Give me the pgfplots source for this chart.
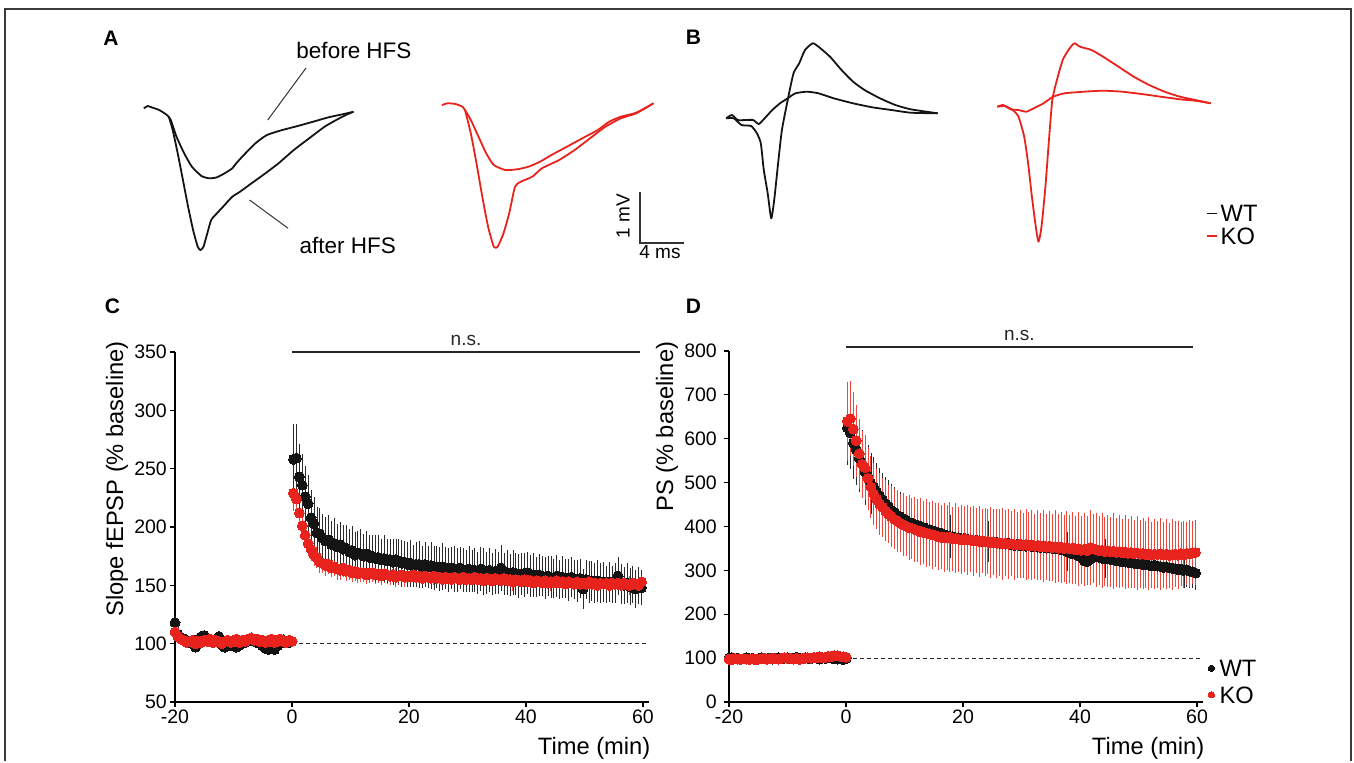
\documentclass[border=0pt]{standalone}
\usepackage{fontspec}
\setmainfont{Liberation Sans}
\usepackage{pgfplots}
\usepackage{pgfplotstable}
\pgfplotsset{compat=1.18}

\definecolor{wt}{HTML}{141414}
\definecolor{ko}{HTML}{E8221D}
\definecolor{wtbar}{HTML}{2B2B2B}
\definecolor{kobar}{HTML}{F0463C}
\definecolor{frame}{HTML}{3A3A3A}

\newcommand\tfont{\fontsize{19.5}{22}\selectfont}
\newcommand\lfont{\fontsize{23.7}{28}\selectfont}
\newcommand\pfont{\bfseries\fontsize{21}{24}\selectfont}

% panel C: t, WT mean, WT sem, KO mean, KO sem (% baseline)
\pgfplotstableread{
t wt wte ko koe
-20 118 6 110 5
-19.5 108 6 106 5
-19 105 5 104 4
-18.5 104 5 103 4
-18 103 5 101 4
-17.5 101 5 102 4
-17 102 5 103 4
-16.5 97 5 100 4
-16 104 5 102 4
-15.5 106 5 101 4
-15 107 5 103 4
-14.5 105 5 102 4
-14 103 5 104 4
-13.5 101 5 101 4
-13 104 5 103 4
-12.5 106 5 102 4
-12 99 5 100 4
-11.5 97 5 102 4
-11 98 5 103 4
-10.5 99 5 101 4
-10 98 5 102 4
-9.5 97 5 104 4
-9 99 5 101 4
-8.5 100 5 103 4
-8 101 5 102 4
-7.5 102 5 104 4
-7 104 5 105 4
-6.5 103 5 103 4
-6 101 5 104 4
-5.5 100 5 102 4
-5 98 5 103 4
-4.5 96 5 101 4
-4 95 5 102 4
-3.5 97 5 104 4
-3 95 5 101 4
-2.5 98 5 103 4
-2 100 5 104 4
-1.5 103 5 102 4
-1 102 5 101 4
-0.5 101 5 103 4
0 102 5 102 4
0.25 258 30 229 15
0.75 259 29 224 14
1.25 243 28 212 13
1.75 236 27 201 12
2.25 226 26 193 11
2.75 220 25 186 10
3.25 208 24 181 10
3.75 203 23 176 9
4.25 195 22 174 9
4.75 194 22 170 9
5.25 190 21 169 8
5.75 188 21 167 9
6.25 189 21 168 8
6.75 185 20 165 8
7.25 186 22 166 8
7.75 183 20 164 9
8.25 185 19 163 8
8.75 181 21 165 8
9.25 182 20 162 8
9.75 179 19 163 8
10.25 180 21 161 8
10.75 176 20 162 8
11.25 178 19 160 8
11.75 177 21 161 8
12.25 175 19 161 8
12.75 177 20 159 8
13.25 174 19 160 8
13.75 175 18 161 8
14.25 173 20 159 8
14.75 174 19 160 8
15.25 172 18 158 8
15.75 173 20 160 8
16.25 171 19 159 8
16.75 172 18 158 8
17.25 170 20 159 8
17.75 172 18 157 8
18.25 171 19 158 8
18.75 169 20 159 8
19.25 170 18 157 8
19.75 168 19 158 8
20.25 169 20 157 8
20.75 167 18 159 8
21.25 168 19 157 8
21.75 168 20 158 8
22.25 166 18 156 8
22.75 168 19 158 8
23.25 166 18 157 8
23.75 167 20 156 8
24.25 165 19 158 8
24.75 166 18 156 8
25.25 164 19 157 8
25.75 166 20 155 8
26.25 165 18 157 8
26.75 163 19 156 8
27.25 165 18 155 8
27.75 164 20 157 8
28.25 163 19 156 8
28.75 165 18 155 8
29.25 163 19 157 8
29.75 162 18 155 8
30.25 164 20 156 8
30.75 162 18 155 8
31.25 163 19 157 8
31.75 161 18 155 8
32.25 164 19 156 8
32.75 162 20 154 8
33.25 161 18 156 8
33.75 163 19 155 8
34.25 160 18 154 8
34.75 162 19 156 8
35.25 161 18 155 8
35.75 165 20 154 8
36.25 160 18 156 8
36.75 161 19 154 8
37.25 159 18 155 8
37.75 161 19 153 8
38.25 160 18 155 8
38.75 158 19 154 8
39.25 160 18 153 8
39.75 159 19 155 8
40.25 161 18 153 8
40.75 158 18 154 8
41.25 159 19 152 8
41.75 157 17 154 8
42.25 159 18 153 8
42.75 158 17 152 8
43.25 156 18 154 8
43.75 158 17 152 8
44.25 157 18 153 8
44.75 156 17 152 8
45.25 158 18 154 8
45.75 155 17 152 8
46.25 157 18 153 8
46.75 156 17 151 8
47.25 155 18 153 8
47.75 157 17 152 8
48.25 155 17 151 8
48.75 154 18 153 8
49.25 156 17 151 8
49.75 147 17 152 8
50.25 155 17 151 8
50.75 153 18 153 8
51.25 154 17 151 8
51.75 152 17 152 8
52.25 154 18 150 8
52.75 152 17 152 8
53.25 153 17 151 8
53.75 151 16 152 8
54.25 153 17 150 8
54.75 151 16 152 8
55.25 152 17 151 8
55.75 158 16 152 8
56.25 151 17 150 8
56.75 150 16 152 8
57.25 152 17 151 8
57.75 149 16 150 8
58.25 151 16 152 8
58.75 147 16 151 8
59.25 150 16 150 8
59.75 148 15 153 8
}\slope

% panel D: population spike, same columns
\pgfplotstableread{
t wt wte ko koe
-20 100 8 98 7
-19.5 101 7 97 7
-19 99 7 99 7
-18.5 100 7 98 7
-18 98 7 97 7
-17.5 99 7 99 7
-17 101 7 98 7
-16.5 99 7 97 7
-16 100 7 99 7
-15.5 98 7 96 7
-15 99 7 98 7
-14.5 101 7 99 7
-14 100 7 100 7
-13.5 99 7 98 7
-13 100 7 99 7
-12.5 98 7 100 7
-12 100 7 99 7
-11.5 101 7 98 7
-11 99 7 100 7
-10.5 100 7 101 7
-10 101 7 99 7
-9.5 99 7 100 7
-9 100 7 98 7
-8.5 102 7 100 7
-8 100 7 97 7
-7.5 99 7 99 7
-7 101 7 100 7
-6.5 100 7 101 7
-6 99 7 100 7
-5.5 101 7 102 7
-5 100 7 101 7
-4.5 98 7 103 7
-4 100 7 101 7
-3.5 99 7 102 7
-3 101 7 104 7
-2.5 100 7 103 7
-2 99 7 106 7
-1.5 98 7 105 7
-1 100 7 104 7
-0.5 97 7 103 7
0 99 7 102 7
0.25 625 85 640 90
0.75 614 84 646 86
1.25 590 82 622 84
1.75 575 80 596 82
2.25 556 78 566 80
2.75 543 76 542 76
3.25 524 74 534 74
3.75 514 72 510 72
4.25 498 70 490 70
4.75 490 68 474 71
5.25 478 66 462 68
5.75 470 64 451 70
6.25 460 62 444 67
6.75 452 61 436 69
7.25 446 60 429 66
7.75 437 59 423 70
8.25 433 58 417 68
8.75 426 57 413 71
9.25 423 56 408 67
9.75 417 56 404 72
10.25 415 55 401 69
10.75 410 55 398 74
11.25 408 54 396 70
11.75 404 54 393 75
12.25 403 53 391 71
12.75 399 53 388 76
13.25 398 52 387 72
13.75 394 52 385 77
14.25 393 51 383 73
14.75 390 51 381 78
15.25 389 50 380 73
15.75 386 50 377 77
16.25 385 50 376 72
16.75 381 49 375 78
17.25 380 49 374 74
17.75 378 49 376 79
18.25 377 48 372 73
18.75 375 48 373 80
19.25 374 48 371 74
19.75 372 48 370 78
20.25 373 48 372 75
20.75 371 47 369 80
21.25 370 47 370 74
21.75 368 47 367 79
22.25 369 47 368 75
22.75 367 47 366 80
23.25 366 46 367 74
23.75 365 46 365 78
24.25 366 46 366 75
24.75 364 46 363 81
25.25 363 46 365 75
25.75 364 46 362 79
26.25 362 46 363 76
26.75 361 45 361 82
27.25 360 45 362 75
27.75 362 45 360 79
28.25 358 45 361 74
28.75 357 45 359 80
29.25 359 45 358 75
29.75 356 45 360 78
30.25 357 45 357 74
30.75 355 45 359 81
31.25 356 45 356 76
31.75 354 45 358 79
32.25 355 45 355 74
32.75 353 45 357 80
33.25 352 45 354 76
33.75 354 45 356 82
34.25 351 45 353 75
34.75 352 45 355 80
35.25 350 45 352 76
35.75 349 45 354 83
36.25 350 45 351 77
36.75 347 45 353 81
37.25 346 45 350 76
37.75 343 45 352 84
38.25 341 45 349 77
38.75 338 45 351 82
39.25 336 45 347 78
39.75 333 45 349 85
40.25 330 45 346 77
40.75 322 45 348 83
41.25 320 45 345 79
41.75 326 45 352 86
42.25 329 45 350 78
42.75 331 44 347 84
43.25 330 44 345 79
43.75 328 44 346 85
44.25 327 44 343 78
44.75 326 44 345 82
45.25 325 44 342 80
45.75 324 44 344 86
46.25 322 43 341 79
46.75 321 43 343 83
47.25 320 43 340 78
47.75 319 43 342 85
48.25 318 43 339 79
48.75 317 43 341 82
49.25 316 42 338 77
49.75 315 42 340 84
50.25 316 42 337 78
50.75 313 42 339 81
51.25 314 42 336 77
51.75 312 42 338 83
52.25 311 41 335 76
52.75 312 41 337 80
53.25 310 41 336 76
53.75 309 41 338 82
54.25 307 41 335 75
54.75 308 40 337 79
55.25 306 40 334 74
55.75 305 40 336 80
56.25 304 40 337 75
56.75 302 40 335 78
57.25 303 39 338 73
57.75 300 39 336 77
58.25 301 39 339 72
58.75 298 39 338 76
59.25 297 38 340 72
59.75 294 38 341 74
}\spike

\pgfplotsset{
  ltp/.style={
    scale only axis, clip=false,
    axis lines*=left,
    axis line style={line width=1.2pt, black},
    tick align=outside, major tick length=5pt,
    every tick/.style={line width=1.2pt, black},
    xmin=-20, xmax=61, width=473.85pt,
    xtick={-20,0,20,40,60}, xticklabels={-20,0,20,40,60},
    /pgf/number format/assume math mode=true,
    tick label style={font=\tfont},
    yticklabel style={inner sep=3pt},
    xticklabel style={inner sep=3pt},
    label style={font=\lfont},
    xlabel={Time (min)},
    xlabel style={at={(axis description cs:1,0)}, anchor=north east, xshift=5pt, yshift=-32pt},
  },
  wterr/.style={only marks, mark=none, forget plot,
    error bars/.cd, y dir=both, y explicit, error mark=none,
    error bar style={draw=wtbar, line width=0.65pt}},
  koerr/.style={only marks, mark=none, forget plot,
    error bars/.cd, y dir=both, y explicit, error mark=none,
    error bar style={draw=kobar, line width=0.75pt}},
  wtdot/.style={only marks, mark=*, mark size=5pt, mark options={fill=wt, draw=wt, line width=0pt}},
  kodot/.style={only marks, mark=*, mark size=5pt, mark options={fill=ko, draw=ko, line width=0pt}},
  trace/.style={no marks, line width=1.8pt, line join=round, smooth, tension=0.35},
}

\begin{document}
\begin{tikzpicture}

% canvas in pixel units: traces, labels, frame
\begin{axis}[at={(0pt,0pt)}, anchor=north west, scale only axis,
  width=1354pt, height=761pt, xmin=0, xmax=1354, ymin=0, ymax=761,
  y dir=reverse, hide axis, clip=false,
  legend style={draw=none, fill=none, at={(axis cs:1206,202)}, anchor=north west,
    font=\lfont, inner sep=0pt, nodes={inner sep=3pt, text depth=0pt}},
  legend cell align=left,
  legend image code/.code={\draw[#1, line width=1.5pt] (0pt,0pt) -- (10pt,0pt);}]
\path (0,0) rectangle (1354,761);
\draw[frame, line width=1.5pt] (5,761) -- (5,9) -- (1351,9) -- (1351,761);

% A: WT before / after HFS
\addplot[trace, wt, forget plot] coordinates {
(143.8,108.3) (147.7,106) (151.5,107.3) (159.2,110) (166.9,115) (170.8,120)
(176.5,136.7) (184.2,153.3) (191.9,166.7) (201.5,176) (209.2,178.3) (216.9,177.3)
(224.6,173.3) (232.3,168.3) (236.2,163.3) (243.8,155) (255.4,143.3) (266.9,135)
(282.3,130) (297.7,126) (313.1,121.7) (328.5,117.3) (343.8,114) (353.5,111.7)};
\addplot[trace, wt, forget plot] coordinates {
(168.8,116.7) (172.7,130) (177.7,153.3) (182.3,176.7) (188.1,206.7) (193.1,230)
(197.7,246.7) (200.4,250) (203.5,246.7) (207.3,233.3) (211.2,220) (216.9,213.3)
(224.6,205) (232.3,196.7) (240,191.7) (251.5,183.3) (263.1,175) (278.5,163.3)
(293.8,150) (309.2,138.3) (324.6,126.7) (336.2,120) (345.8,115) (353.5,111.7)};
% A: KO before / after HFS
\addplot[trace, ko, forget plot] coordinates {
(441.9,105) (447.7,103.3) (455.4,104) (463.1,107.3) (470.8,120) (478.5,136.7)
(486.2,153.3) (493.8,165) (505.4,170) (516.9,169.3) (528.5,166.7) (540,161.7)
(551.5,155) (566.9,146.7) (582.3,138.3) (597.7,130) (609.2,121.7) (620.8,116.7)
(636.2,112.7) (653.5,103.3)};
\addplot[trace, ko, forget plot] coordinates {
(465,110) (470.8,133.3) (476.5,163.3) (482.3,196.7) (488.1,226.7) (493.8,246.7)
(497.7,246.7) (503.5,233.3) (509.2,213.3) (515,186.7) (520.8,181.7) (532.3,176.7)
(541.9,168.3) (559.2,160) (574.6,150) (590,138.3) (605.4,126.7) (620.8,118.3)
(636.2,113.3) (653.5,103.3)};

% B: WT
\addplot[trace, wt] coordinates {
(726.2,118.3) (731.9,115) (737.7,120) (745.4,120) (753.1,120) (758.8,124)
(764.6,118.3) (772.3,110) (780,103.3) (787.7,98.3) (795.4,93.3) (806.9,91.7)
(818.5,93.3) (833.8,98.3) (853.1,103.3) (872.3,107.3) (891.5,110) (910.8,112.7)
(937.7,113.3)};
\addlegendentry{WT}
\addplot[trace, wt, forget plot] coordinates {
(726.2,118.3) (733.8,118.3) (741.5,125) (751.2,126) (756.9,133.3) (760.8,143.3)
(763.8,170) (767.7,193.3) (771.2,218.3) (774.2,200) (778.1,163.3) (781.9,130)
(787.7,100) (793.5,73.3) (799.2,63.3) (805,50) (812.7,43.3) (818.5,46.7)
(830,56.7) (841.5,70) (853.1,81.7) (864.6,90) (880,98.3) (895.4,105)
(910.8,109.3) (937.7,113.3)};
% B: KO
\addplot[trace, ko] coordinates {
(997.3,106.7) (1003.1,105) (1010.8,109.3) (1018.5,110) (1026.2,111.7) (1033.8,108.3)
(1043.5,103.3) (1053.1,96.7) (1064.6,93.3) (1083.8,91.7) (1103.1,90.7) (1122.3,91.7)
(1141.5,94) (1160.8,96.7) (1180,99.3) (1195.4,100.7) (1210.8,103.3)};
\addlegendentry{KO}
\addplot[trace, ko, forget plot] coordinates {
(997.3,106.7) (1005,106) (1012.7,110) (1018.5,116.7) (1024.2,136.7) (1028.1,163.3)
(1031.9,196.7) (1035.8,226.7) (1038.5,241.7) (1041.5,226.7) (1045.4,186.7) (1049.2,136.7)
(1052.3,100) (1056.9,80) (1062.7,60) (1068.5,50) (1074.2,43.3) (1080,46.7)
(1091.5,50) (1103.1,56.7) (1118.5,66.7) (1133.8,76.7) (1149.2,85) (1164.6,91.7)
(1180,96.7) (1195.4,100) (1210.8,103.3)};

% annotations
\draw[line width=1pt, black!80] (306,68) -- (267.7,120);
\draw[line width=1pt, black!80] (249.6,200) -- (288.1,228.3);
\node[font=\fontsize{22.5}{26}\selectfont] at (354,50) {before HFS};
\node[font=\fontsize{22.5}{26}\selectfont] at (347.7,245) {after HFS};
\draw[line width=1.1pt, black!80] (640,192) -- (640,243) -- (684,243);
\node[rotate=90, font=\fontsize{19}{22}\selectfont] at (623,216) {1 mV};
\node[font=\fontsize{19}{22}\selectfont] at (660,252) {4 ms};
\node[font=\pfont] at (111,38) {A};
\node[font=\pfont] at (693.5,37.5) {B};
\node[font=\pfont] at (112.5,306.7) {C};
\node[font=\pfont] at (693.4,306.7) {D};
\end{axis}

% C: fEPSP slope
\begin{axis}[ltp, at={(175pt,-702pt)}, anchor=south west, height=350pt,
  ymin=50, ymax=350, ytick={50,100,...,350},
  ylabel={Slope fEPSP (\% baseline)},
  ylabel style={at={(axis description cs:-0.1224,0.6375)}, anchor=center}]
\draw[dash pattern=on 4pt off 3pt, line width=0.8pt, black!85] (axis cs:0,100) -- (axis cs:61,100);
\draw[line width=1.2pt, black!85] (axis cs:0,350) -- (axis cs:59.5,350)
  node[midway, above, inner sep=6pt, font=\fontsize{19}{22}\selectfont] {n.s.};
\addplot[koerr] table[x=t, y=ko, y error=koe] {\slope};
\addplot[wterr] table[x=t, y=wt, y error=wte] {\slope};
\addplot[wtdot] table[x=t, y=wt] {\slope};
\addplot[kodot] table[x=t, y=ko] {\slope};
\end{axis}

% D: population spike
\begin{axis}[ltp, at={(729pt,-702pt)}, anchor=south west, height=351pt,
  ymin=0, ymax=800, ytick={0,100,...,800},
  yticklabel style={xshift=-4pt},
  ylabel={PS (\% baseline)},
  ylabel style={at={(axis description cs:-0.131,0.784)}, anchor=center},
  legend style={draw=none, fill=none, at={(1.0108,0.134)}, anchor=north west,
    font=\lfont, inner sep=0pt, nodes={inner sep=5pt, text depth=0pt}},
  legend cell align=left,
  legend image code/.code={\draw[#1, mark size=3.2pt] plot coordinates {(3.5pt,0pt)};}]
\draw[dash pattern=on 4pt off 3pt, line width=0.8pt, black!85] (axis cs:0,100) -- (axis cs:61,100);
\draw[line width=1.2pt, black!85] (axis cs:0,809) -- (axis cs:59.3,809)
  node[midway, above, inner sep=6pt, font=\fontsize{19}{22}\selectfont] {n.s.};
\addplot[wterr] table[x=t, y=wt, y error=wte] {\spike};
\addplot[koerr] table[x=t, y=ko, y error=koe] {\spike};
\addplot[wtdot] table[x=t, y=wt] {\spike};
\addlegendentry{WT}
\addplot[kodot] table[x=t, y=ko] {\spike};
\addlegendentry{KO}
\end{axis}

\end{tikzpicture}
\end{document}
